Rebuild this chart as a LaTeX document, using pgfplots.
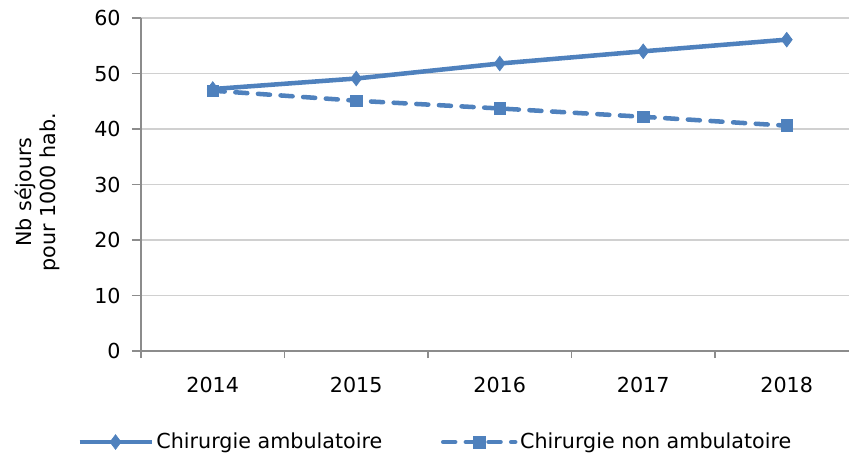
\documentclass[border=0pt]{standalone}
\usepackage{pgfplots}
\pgfplotsset{compat=1.18}
\usepackage{fontspec}
\setmainfont{DejaVu Sans}
\definecolor{serie}{HTML}{4F81BD}
\definecolor{axisgray}{HTML}{8C8C8C}
\definecolor{gridgray}{HTML}{D0D0D0}
\begin{document}
\begin{tikzpicture}
\useasboundingbox (-105.75pt,-78pt) rectangle (531pt,263.25pt);
\begin{axis}[
  at={(0pt,0pt)}, anchor=south west,
  scale only axis, width=531pt, height=249.75pt,
  xmin=-0.5, xmax=4.434, ymin=0, ymax=60,
  axis lines*=left,
  axis line style={axisgray, line width=1pt},
  font=\fontsize{15.5}{18}\selectfont,
  /pgf/number format/assume math mode=true,
  xtick={0,1,2,3,4}, xticklabels={2014,2015,2016,2017,2018},
  minor xtick={-0.5,0.5,1.5,2.5,3.5},
  ytick={0,10,20,30,40,50,60},
  ymajorgrids, grid style={gridgray, line width=0.9pt},
  tick align=outside,
  tick style={axisgray, line width=1pt},
  major x tick style={draw=none},
  major tick length=6.75pt, minor tick length=5.25pt,
  yticklabel style={xshift=-5pt},
  xticklabel style={yshift=-9pt},
  ylabel={Nb séjours\\pour 1000 hab.},
  ylabel style={align=center, at={(axis description cs:-0.1470,0.477)}, anchor=center},
  legend columns=2,
  legend style={draw=none, fill=none, at={(axis description cs:-0.0904,-0.2733)}, anchor=west, inner sep=0pt,
    nodes={inner sep=2pt}, font=\fontsize{15.5}{18}\selectfont,
    /tikz/every even column/.append style={column sep=42pt}},
  legend image code/.code={\draw[#1, mark repeat=2, mark phase=2] plot coordinates {(0pt,0pt) (27pt,0pt) (54pt,0pt)};},
]
\addplot[serie, line width=3.4pt, mark=diamond*, mark size=5.5pt, mark options={solid, fill=serie, line width=0.5pt}]
  coordinates {(0,47.2) (1,49.1) (2,51.8) (3,54.0) (4,56.1)};
\addlegendentry{Chirurgie ambulatoire}
\addplot[serie, line width=3.4pt, dash pattern=on 9pt off 8pt, line cap=round, mark=square*, mark size=4.4pt, mark options={solid, fill=serie, line width=0.5pt}]
  coordinates {(0,46.9) (1,45.1) (2,43.7) (3,42.2) (4,40.6)};
\addlegendentry{Chirurgie non ambulatoire}
\end{axis}
\end{tikzpicture}
\end{document}
